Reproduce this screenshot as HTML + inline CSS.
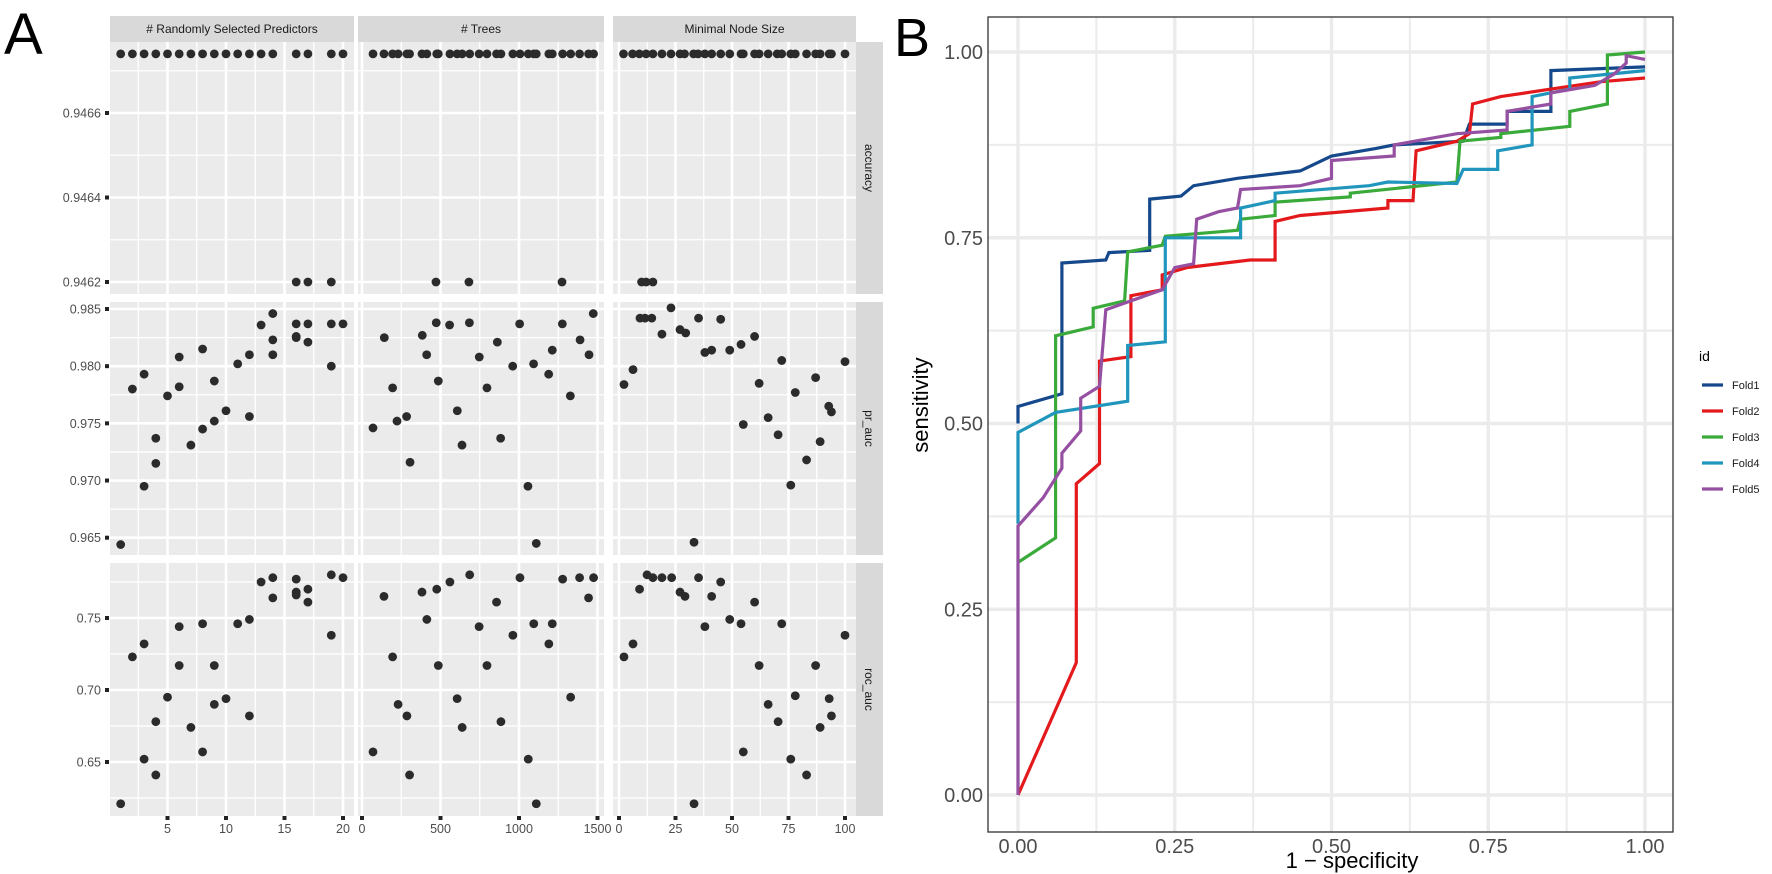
<!DOCTYPE html>
<html><head><meta charset="utf-8"><style>
body{margin:0;background:#fff;}
svg{display:block;font-family:"Liberation Sans",sans-serif;}
</style></head><body>
<svg id="fig" width="1772" height="874" viewBox="0 0 1772 874" xmlns="http://www.w3.org/2000/svg">
<text x="4" y="54" font-size="58" fill="#000">A</text>
<text x="894" y="56" font-size="54" fill="#000">B</text>
<g id="pa"></g>
<g id="pb"></g>
</svg>
<script>
// ---------- Panel A data ----------
const accTopMtry=[1,2,3,4,5,6,7,8,9,10,11,12,13,14,16,17,19,20];
const accLowMtry=[16,17,19];
const accTopTrees=[70,140,195,230,286,303,382,413,476,486,560,606,638,686,746,796,857,885,961,1006,1059,1094,1110,1190,1212,1278,1329,1386,1443,1475];
const accLowTrees=[471,681,1274];
const accTopMinN=[2,6,9,12,15,19,23,27,29,33,35,38,41,45,49,54,55,60,62,66,70,72,76,78,83,87,89,93,94,100];
const accLowMinN=[10,12,15];
const accTopVal=0.94674, accLowVal=0.9462;

const prMtryX=[1,2,3,3,4,4,5,6,6,7,8,8,9,9,10,11,12,12,13,14,14,14,16,16,16,17,17,19,19,20];
const prMtryY=[0.9644,0.9780,0.9793,0.9695,0.9737,0.9715,0.9774,0.9808,0.9782,0.9731,0.9815,0.9745,0.9787,0.9752,0.9761,0.9802,0.9810,0.9756,0.9836,0.9846,0.9823,0.9810,0.9837,0.9826,0.9825,0.9837,0.9821,0.9837,0.9800,0.9837];
const prTreesX=[70,142,195,223,284,306,384,412,473,486,558,607,637,684,747,796,862,883,960,1004,1057,1093,1110,1189,1212,1276,1327,1389,1446,1473];
const prTreesY=[0.9746,0.9825,0.9781,0.9752,0.9756,0.9716,0.9827,0.9810,0.9838,0.9787,0.9836,0.9761,0.9731,0.9838,0.9808,0.9781,0.9821,0.9737,0.9800,0.9837,0.9695,0.9802,0.9645,0.9793,0.9814,0.9837,0.9774,0.9823,0.9810,0.9846];
const prMinNX=[9.3,11.5,14.5,23,19,27,29.5,35.2,45,38,41,49,54,60,2.2,6.2,72,100,62,78,87,92.8,94,55,66,70.4,89,83,76,33.2];
const prMinNY=[0.9842,0.9842,0.9842,0.9851,0.9828,0.9832,0.9829,0.9842,0.9841,0.9812,0.9814,0.9814,0.9819,0.9826,0.9784,0.9797,0.9805,0.9804,0.9785,0.9777,0.9790,0.9765,0.9760,0.9749,0.9755,0.9740,0.9734,0.9718,0.9696,0.9646];

const rocMtryX=[1,2,3,3,4,4,5,6,6,7,8,8,9,9,10,11,12,12,13,14,14,16,16,16,17,17,19,19,20];
const rocMtryY=[0.621,0.723,0.732,0.652,0.678,0.641,0.695,0.744,0.717,0.674,0.746,0.657,0.717,0.690,0.694,0.746,0.749,0.682,0.775,0.778,0.764,0.777,0.768,0.766,0.770,0.761,0.780,0.738,0.778];
const rocTreesX=[70,140,195,230,286,303,382,413,476,486,560,606,638,686,746,796,857,885,961,1006,1094,1059,1110,1190,1212,1278,1329,1386,1443,1475];
const rocTreesY=[0.657,0.765,0.723,0.690,0.682,0.641,0.768,0.749,0.770,0.717,0.775,0.694,0.674,0.780,0.744,0.717,0.761,0.678,0.738,0.778,0.746,0.652,0.621,0.732,0.746,0.777,0.695,0.778,0.764,0.778];
const rocMinNX=[2.2,6.2,9.1,12.4,15,19,23.3,27,29.2,33.2,35.2,38,41,45,49,54,55,60,62,66,70.4,72,76,78,83,87,89,93,94,100];
const rocMinNY=[0.723,0.732,0.770,0.780,0.778,0.778,0.778,0.768,0.765,0.621,0.778,0.744,0.765,0.775,0.749,0.746,0.657,0.761,0.717,0.690,0.678,0.746,0.652,0.696,0.641,0.717,0.674,0.694,0.682,0.738];

const colTitles=["# Randomly Selected Predictors","# Trees","Minimal Node Size"];
const rowTitles=["accuracy","pr_auc","roc_auc"];
const colTicks=[[5,10,15,20],[0,500,1000,1500],[0,25,50,75,100]];
const colMinor=[[2.5,7.5,12.5,17.5],[250,750,1250],[12.5,37.5,62.5,87.5]];
const rowTicks=[[0.9462,0.9464,0.9466],[0.965,0.970,0.975,0.980,0.985],[0.65,0.70,0.75]];
const rowTickLabels=[["0.9462","0.9464","0.9466"],["0.965","0.970","0.975","0.980","0.985"],["0.65","0.70","0.75"]];
const rowMinor=[[0.9463,0.9465,0.9467],[0.9675,0.9725,0.9775,0.9825],[0.625,0.675,0.725,0.775]];

// ---------- Panel B data ----------
const foldNames=["Fold1","Fold2","Fold3","Fold4","Fold5"];
const foldColors=["#16488c","#e4191c","#3aaa3a","#2196bd","#9650a2"];
const fold1Fpr=[0,0,0.07,0.07,0.14,0.145,0.21,0.21,0.26,0.28,0.35,0.45,0.5,0.57,0.6,0.71,0.72,0.78,0.78,0.85,0.85,1];
const fold1Tpr=[0.50,0.523,0.54,0.716,0.72,0.73,0.733,0.802,0.806,0.82,0.83,0.84,0.86,0.87,0.875,0.88,0.903,0.903,0.92,0.92,0.975,0.98];
const fold2Fpr=[0,0.093,0.093,0.13,0.13,0.18,0.18,0.23,0.23,0.27,0.37,0.41,0.41,0.45,0.59,0.59,0.63,0.635,0.7,0.72,0.725,0.77,0.85,0.93,1];
const fold2Tpr=[0,0.178,0.419,0.446,0.584,0.59,0.672,0.68,0.70,0.71,0.72,0.72,0.772,0.78,0.79,0.80,0.80,0.867,0.88,0.89,0.93,0.94,0.95,0.96,0.965];
const fold3Fpr=[0,0.06,0.06,0.12,0.12,0.17,0.175,0.23,0.235,0.35,0.355,0.41,0.41,0.53,0.53,0.7,0.705,0.77,0.77,0.88,0.88,0.94,0.94,1];
const fold3Tpr=[0.313,0.346,0.618,0.63,0.655,0.665,0.731,0.74,0.752,0.76,0.775,0.78,0.798,0.805,0.81,0.825,0.88,0.885,0.89,0.9,0.92,0.93,0.996,1.0];
const fold4Fpr=[0,0,0.06,0.175,0.175,0.235,0.235,0.355,0.355,0.41,0.41,0.56,0.59,0.7,0.71,0.765,0.765,0.82,0.82,0.88,0.88,1];
const fold4Tpr=[0.365,0.488,0.515,0.53,0.605,0.61,0.75,0.75,0.79,0.80,0.81,0.82,0.825,0.823,0.842,0.842,0.867,0.875,0.94,0.95,0.965,0.975];
const fold5Fpr=[0,0,0.04,0.07,0.07,0.1,0.1,0.13,0.14,0.18,0.23,0.25,0.28,0.285,0.32,0.35,0.355,0.45,0.5,0.5,0.6,0.6,0.7,0.78,0.78,0.85,0.85,0.92,0.95,0.97,0.97,1];
const fold5Tpr=[0,0.362,0.40,0.44,0.46,0.49,0.534,0.55,0.653,0.665,0.68,0.71,0.715,0.775,0.785,0.79,0.815,0.82,0.83,0.854,0.86,0.875,0.89,0.895,0.92,0.93,0.945,0.955,0.97,0.985,0.995,0.99];
const bTicks=[0,0.25,0.5,0.75,1];
const bTickLabels=["0.00","0.25","0.50","0.75","1.00"];
const bMinor=[0.125,0.375,0.625,0.875];

const NS="http://www.w3.org/2000/svg";
function mk(tag,attrs,parent){const e=document.createElementNS(NS,tag);for(const k in attrs)e.setAttribute(k,attrs[k]);parent.appendChild(e);return e;}
function lin(d0,d1,r0,r1){return v=>r0+(v-d0)/(d1-d0)*(r1-r0);}

// ---------- Panel A ----------
const pa=document.getElementById('pa');
const cols=[{l:110,r:354,x:lin(1,20,120.7,343)},{l:358,r:604,x:lin(0,1500,362,597.5)},{l:613,r:856,x:lin(0,100,619,845)}];
const rows=[{t:42,b:294,y:lin(0.9462,0.9466,282,113)},{t:302,b:555,y:lin(0.965,0.985,537.7,309)},{t:563,b:816,y:lin(0.65,0.75,762,618)}];
const data=[
 [[accTopMtry.concat(accLowMtry),accTopMtry.map(()=>accTopVal).concat(accLowMtry.map(()=>accLowVal))],[accTopTrees.concat(accLowTrees),accTopTrees.map(()=>accTopVal).concat(accLowTrees.map(()=>accLowVal))],[accTopMinN.concat(accLowMinN),accTopMinN.map(()=>accTopVal).concat(accLowMinN.map(()=>accLowVal))]],
 [[prMtryX,prMtryY],[prTreesX,prTreesY],[prMinNX,prMinNY]],
 [[rocMtryX,rocMtryY],[rocTreesX,rocTreesY],[rocMinNX,rocMinNY]]
];
cols.forEach((c,ci)=>{
  const st=mk('rect',{x:c.l,y:16,width:c.r-c.l,height:26,fill:'#d9d9d9'},pa);
  
  
  const tt=mk('text',{x:(c.l+c.r)/2,y:33,'font-size':12,'text-anchor':'middle',fill:'#1a1a1a'},pa);
  tt.textContent=colTitles[ci];
  
  
});
rows.forEach((r,ri)=>{
  const rs=mk('rect',{x:856,y:r.t,width:27,height:r.b-r.t,fill:'#d9d9d9'},pa);
  
  
  const cy=(r.t+r.b)/2;
  const rt=mk('text',{x:865,y:cy,'font-size':12,'text-anchor':'middle',fill:'#1a1a1a',transform:`rotate(90 865 ${cy})`},pa);
  rt.textContent=rowTitles[ri];
  
  
  rowTicks[ri].forEach((t,k)=>{
    const yy=r.y(t);
    const tm=mk('rect',{x:105,y:yy-2,width:4,height:4,fill:'#222'},pa);
    
    
    const tl=mk('text',{x:101,y:yy+4.5,'font-size':12.5,'text-anchor':'end',fill:'#4d4d4d'},pa);
    tl.textContent=rowTickLabels[ri][k];
    
    
  });
  cols.forEach((c,ci)=>{
    const g=mk('g',{},pa);
    
    
    mk('rect',{x:c.l,y:r.t,width:c.r-c.l,height:r.b-r.t,fill:'#ebebeb'},g);
    rowMinor[ri].forEach(t=>{const yy=r.y(t);if(yy>r.t&&yy<r.b)mk('line',{x1:c.l,x2:c.r,y1:yy,y2:yy,stroke:'#fff','stroke-width':1.3},g);});
    colMinor[ci].forEach(t=>{const xx=c.x(t);mk('line',{x1:xx,x2:xx,y1:r.t,y2:r.b,stroke:'#fff','stroke-width':1.3},g);});
    rowTicks[ri].forEach(t=>{const yy=r.y(t);mk('line',{x1:c.l,x2:c.r,y1:yy,y2:yy,stroke:'#fff','stroke-width':2.6},g);});
    colTicks[ci].forEach(t=>{const xx=c.x(t);mk('line',{x1:xx,x2:xx,y1:r.t,y2:r.b,stroke:'#fff','stroke-width':2.6},g);});
    const [xs,ys]=data[ri][ci];
    xs.forEach((v,i)=>{
      const p=mk('circle',{cx:c.x(v),cy:r.y(ys[i]),r:4.4,fill:'#2b2b2b'},g);
      
      
    });
  });
});
cols.forEach((c,ci)=>{
  colTicks[ci].forEach(t=>{
    const xx=c.x(t);
    const tm=mk('rect',{x:xx-2,y:816,width:4,height:4,fill:'#222'},pa);
    
    
    const tl=mk('text',{x:xx,y:833,'font-size':12.5,'text-anchor':'middle',fill:'#4d4d4d'},pa);
    tl.textContent=String(t);
    
    
  });
});

// ---------- Panel B ----------
const pb=document.getElementById('pb');
const bx=lin(0,1,1018,1645), by=lin(0,1,795,52);
const L=988,R=1673,T=17,B=832;
mk('rect',{x:L,y:T,width:R-L,height:B-T,fill:'#fff'},pb);
bMinor.forEach(t=>{
  mk('line',{x1:bx(t),x2:bx(t),y1:T,y2:B,stroke:'#ebebeb','stroke-width':2},pb);
  mk('line',{x1:L,x2:R,y1:by(t),y2:by(t),stroke:'#ebebeb','stroke-width':2},pb);
});
bTicks.forEach((t,k)=>{
  mk('line',{x1:bx(t),x2:bx(t),y1:T,y2:B,stroke:'#ebebeb','stroke-width':3.4},pb);
  mk('line',{x1:L,x2:R,y1:by(t),y2:by(t),stroke:'#ebebeb','stroke-width':3.4},pb);
  const xl=mk('text',{x:bx(t),y:853,'font-size':20,'text-anchor':'middle',fill:'#4d4d4d'},pb);
  xl.textContent=bTickLabels[k];
  
  
  const yl=mk('text',{x:983,y:by(t)+7,'font-size':20,'text-anchor':'end',fill:'#4d4d4d'},pb);
  yl.textContent=bTickLabels[k];
  
  
});
const fprs=[fold1Fpr,fold2Fpr,fold3Fpr,fold4Fpr,fold5Fpr];
const tprs=[fold1Tpr,fold2Tpr,fold3Tpr,fold4Tpr,fold5Tpr];
fprs.forEach((f,i)=>{
  const pts=f.map((v,j)=>bx(v).toFixed(1)+','+by(tprs[i][j]).toFixed(1)).join(' ');
  const pl=mk('polyline',{points:pts,fill:'none',stroke:foldColors[i],'stroke-width':3.2,'stroke-linejoin':'miter'},pb);
  
  
});
mk('rect',{x:L,y:T,width:R-L,height:B-T,fill:'none',stroke:'#333','stroke-width':1.3},pb);
const xt=mk('text',{x:1352,y:868,'font-size':22,'text-anchor':'middle',fill:'#000'},pb);
xt.textContent='1 − specificity';


const yt=mk('text',{x:928,y:405,'font-size':22,'text-anchor':'middle',fill:'#000',transform:'rotate(-90 928 405)'},pb);
yt.textContent='sensitivity';


const lt=mk('text',{x:1699,y:361,'font-size':14,fill:'#000'},pb);
lt.textContent='id';


foldNames.forEach((n,i)=>{
  const yy=385+i*26;
  const g=mk('g',{},pb);
  
  
  mk('line',{x1:1702,x2:1723,y1:yy,y2:yy,stroke:foldColors[i],'stroke-width':3.2},g);
  const t=mk('text',{x:1732,y:yy+4,'font-size':11,fill:'#1a1a1a'},g);
  t.textContent=n;
});
</script>
</body></html>
